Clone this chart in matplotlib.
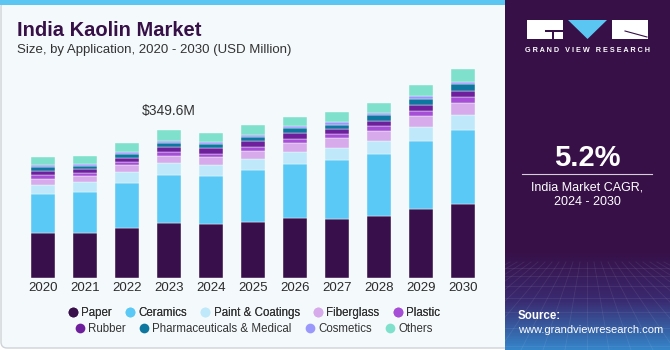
import numpy as np
import matplotlib
matplotlib.use("Agg")
import matplotlib.pyplot as plt
from matplotlib.patches import FancyBboxPatch, Rectangle, Polygon
from matplotlib.lines import Line2D
from matplotlib.colors import LinearSegmentedColormap

plt.rcParams['font.family'] = ['Liberation Sans', 'DejaVu Sans']

years = ["2020", "2021", "2022", "2023", "2024", "2025", "2026", "2027", "2028", "2029", "2030"]
segments = ["Paper", "Ceramics", "Paint & Coatings", "Fiberglass", "Plastic",
            "Rubber", "Pharmaceuticals & Medical", "Cosmetics", "Others"]
paper = [107.7, 106.9, 119.5, 131.3, 128.1, 133.6, 142.3, 139.1, 147.8, 162.7, 175.3]
ceramics = [90.4, 95.9, 105.3, 113.2, 113.2, 121.8, 127.3, 139.9, 146.2, 161.1, 174.5]
paint = [22.0, 23.6, 25.2, 27.5, 25.9, 25.2, 28.3, 29.1, 29.9, 32.2, 35.4]
fiberglass = [14.1, 14.1, 16.5, 17.3, 18.1, 20.4, 22.0, 22.0, 24.4, 27.5, 29.1]
plastic = [8.6, 7.1, 7.9, 8.6, 7.9, 8.6, 8.6, 9.4, 11.0, 11.0, 13.4]
rubber = [10.2, 10.2, 10.2, 11.0, 13.4, 13.4, 14.1, 13.4, 11.8, 14.1, 14.1]
pharma = [10.2, 7.9, 9.4, 9.4, 10.2, 11.0, 11.0, 9.4, 13.4, 14.1, 15.7]
cosmetics = [4.7, 3.9, 3.9, 5.5, 4.7, 4.7, 5.5, 7.1, 5.5, 7.9, 6.3]
others = [17.3, 18.9, 22.0, 25.9, 21.2, 22.8, 21.2, 22.8, 24.4, 25.2, 29.1]
colors = ["#380f4a", "#5bc9f5", "#bfe9fa", "#d6aaeb", "#a64fd6",
          "#6e1f9c", "#0e77a0", "#9b98fb", "#7fe1cb"]
annot_year = "2023"
annot_text = "$349.6M"
cagr_text = "5.2%"

series = [paper, ceramics, paint, fiberglass, plastic, rubber, pharma, cosmetics, others]

W, H = 670, 350
fig = plt.figure(figsize=(6.7, 3.5), dpi=100)
fig.patch.set_facecolor("white")

def fx(px):
    return px / W

def fy(py):
    return 1 - py / H

# left panel
panel = FancyBboxPatch((fx(1), fy(348)), fx(512), 347 / H,
                       boxstyle="round,pad=0,rounding_size=%f" % fx(6),
                       mutation_aspect=W / H, transform=fig.transFigure,
                       facecolor="#f4f9fc", edgecolor="#cfd3d8", linewidth=1.0, zorder=-3)
fig.patches.append(panel)
fig.patches.append(Rectangle((0, fy(5)), fx(512), 5 / H, transform=fig.transFigure,
                             facecolor="#5cc6f2", edgecolor="none", zorder=-2))

# right panel with gradient
rax = fig.add_axes([fx(505), 0, fx(165), 1])
rax.set_xlim(0, 165)
rax.set_ylim(350, 0)
rax.axis("off")
cmap = LinearSegmentedColormap.from_list(
    "g", [(0, "#371047"), (0.72, "#371047"), (0.86, "#3a2a70"), (1.0, "#3584c8")])
grad = np.linspace(0, 1, 350).reshape(-1, 1)
rax.imshow(grad, cmap=cmap, aspect="auto", extent=[0, 165, 350, 0], zorder=0)
for k in range(-12, 24):
    x0 = 82 + k * 7
    x1 = 82 + k * 22
    rax.plot([x0, x1], [262, 350], color="white", alpha=0.08, lw=0.6, zorder=1)
for yy in [268, 276, 286, 298, 312, 328, 346]:
    rax.plot([0, 165], [yy, yy], color="white", alpha=0.08, lw=0.6, zorder=1)

# logo
rax.add_patch(Rectangle((22, 20), 36, 19, facecolor="white", edgecolor="none", zorder=2))
rax.add_patch(Rectangle((40, 30), 18, 2, facecolor="#371047", edgecolor="none", zorder=3))
rax.add_patch(Rectangle((47, 30), 2, 9, facecolor="#371047", edgecolor="none", zorder=3))
rax.add_patch(Polygon([[63, 20], [102, 20], [82.5, 39]], closed=True,
                      facecolor="#5cc6f2", edgecolor="none", zorder=2))
rax.add_patch(Rectangle((107, 20), 36, 19, facecolor="white", edgecolor="none", zorder=2))
rax.plot([120, 142], [31, 37], color="#371047", lw=0.8, zorder=3)
rax.text(82.5, 51, "G R A N D   V I E W   R E S E A R C H", color="white", fontsize=5.2,
         fontweight="bold", ha="center", va="center", zorder=3)
rax.text(82.5, 166, cagr_text, color="white", fontsize=21, fontweight="bold",
         ha="center", va="baseline", zorder=3)
rax.plot([17, 147], [173.5, 173.5], color="white", lw=0.8, alpha=0.8, zorder=3)
rax.text(82.5, 187, "India Market CAGR,", color="white", fontsize=9,
         ha="center", va="center", zorder=3)
rax.text(82.5, 202, "2024 - 2030", color="white", fontsize=9,
         ha="center", va="center", zorder=3)
rax.text(13, 316, "Source:", color="white", fontsize=8.3, fontweight="bold",
         ha="left", va="center", zorder=3)
rax.text(13, 330, "www.grandviewresearch.com", color="white", fontsize=8,
         ha="left", va="center", zorder=3)

# titles
fig.text(fx(17), fy(36), "India Kaolin Market", color="#371047", fontsize=14.5,
         fontweight="heavy", ha="left", va="baseline")
fig.text(fx(17), fy(53), "Size, by Application, 2020 - 2030 (USD Million)", color="#333333",
         fontsize=9.5, ha="left", va="baseline")

# main axes
scale = 349.6 / 148.3
ax_top_px, base_px = 60, 278.3
ax = fig.add_axes([fx(22), fy(base_px), fx(462), (base_px - ax_top_px) / H])
ax.set_facecolor("none")
x = np.arange(len(years))
bottom = np.zeros(len(years))
for vals, col in zip(series, colors):
    ax.bar(x, vals, width=0.57, bottom=bottom, color=col, edgecolor="#f4f9fc",
           linewidth=0.3, zorder=2)
    bottom = bottom + np.array(vals)
ax.set_xlim(-0.5, len(years) - 0.5)
ax.set_ylim(0, (base_px - ax_top_px) * scale)
ax.set_xticks(x)
ax.set_xticklabels(years, fontsize=9.5, color="#2b2b2b")
ax.tick_params(axis="x", length=0, pad=3)
ax.set_yticks([])
for s in ax.spines.values():
    s.set_visible(False)
ai = years.index(annot_year)
ax.text(ai, bottom[ai] + 19 * scale, annot_text, ha="center", va="center",
        fontsize=10, color="#333333")

# legend
handles = [Line2D([0], [0], marker="o", linestyle="none", markersize=7,
                  markerfacecolor=c, markeredgecolor="none") for c in colors]
leg1 = fig.legend(handles[:5], segments[:5], ncol=5, loc="center",
                  bbox_to_anchor=(fx(253), fy(313)), frameon=False, fontsize=8.3,
                  handletextpad=0.1, columnspacing=1.0, handlelength=1.2,
                  labelcolor="#333333")
fig.add_artist(leg1)
fig.legend(handles[5:], segments[5:], ncol=4, loc="center",
           bbox_to_anchor=(fx(253), fy(329)), frameon=False, fontsize=8.3,
           handletextpad=0.1, columnspacing=1.0, handlelength=1.2,
           labelcolor="#333333")

fig.savefig("out.png", dpi=100, facecolor=fig.get_facecolor())
